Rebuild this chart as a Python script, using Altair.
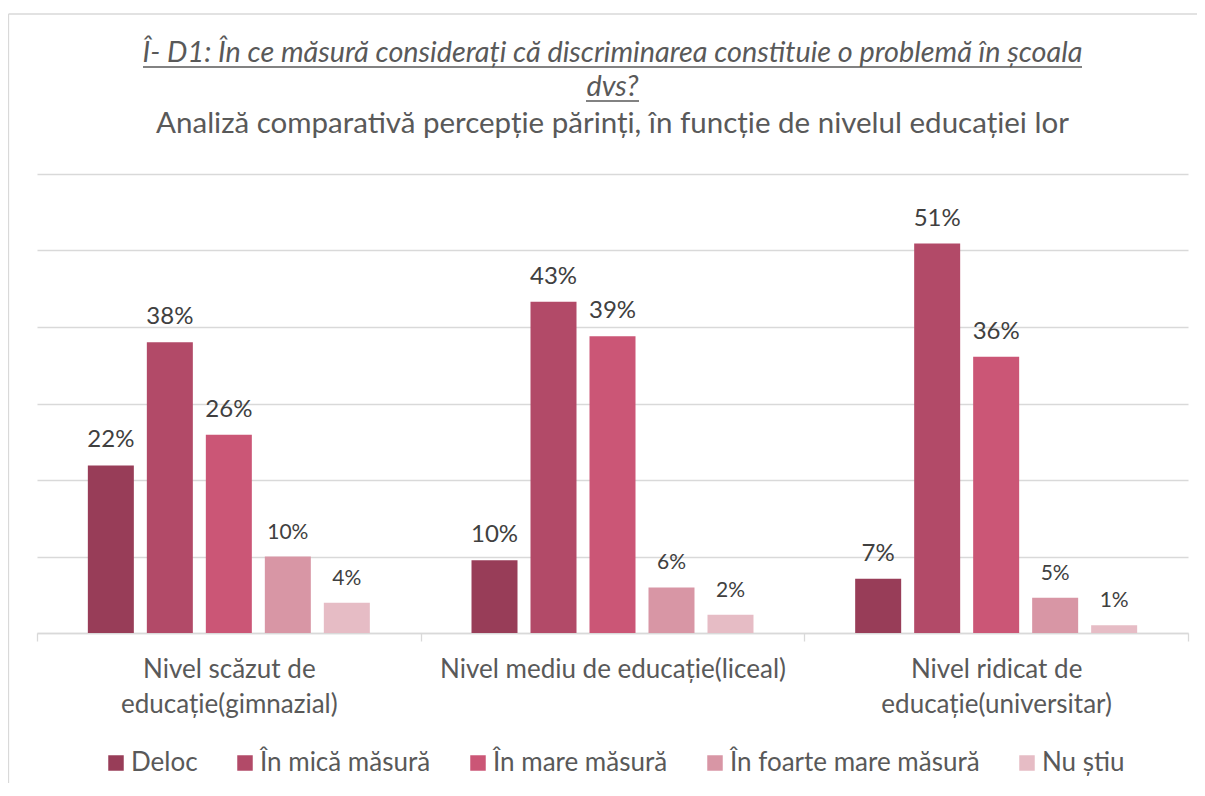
import altair as alt
import pandas as pd

# ---- data ----
categories = [
    "Nivel scăzut de educație(gimnazial)",
    "Nivel mediu de educație(liceal)",
    "Nivel ridicat de educație(universitar)",
]
category_lines = [
    ["Nivel scăzut de", "educație(gimnazial)"],
    ["Nivel mediu de educație(liceal)"],
    ["Nivel ridicat de", "educație(universitar)"],
]
series = ["Deloc", "În mică măsură", "În mare măsură", "În foarte mare măsură", "Nu știu"]
deloc = [21.9, 9.5, 7.1]
mica = [38.0, 43.3, 50.9]
mare = [25.9, 38.8, 36.1]
foarte_mare = [10.0, 5.95, 4.6]
nu_stiu = [3.95, 2.4, 1.0]
y_ticks = [0, 10, 20, 30, 40, 50, 60]

colors = ["#983D58", "#B24A68", "#CB5676", "#D896A5", "#E6BCC5"]
label_sizes = [24, 24, 24, 21, 21]

title_line1 = "Î- D1: În ce măsură considerați că discriminarea constituie o problemă în școala"
title_line2 = "dvs?"
subtitle = "Analiză comparativă percepție părinți, în funcție de nivelul educației lor"

values_by_series = [deloc, mica, mare, foarte_mare, nu_stiu]
rows = []
for s, vals in zip(series, values_by_series):
    for c, v in zip(categories, vals):
        rows.append({"category": c, "series": s, "value": v})
df = pd.DataFrame(rows)

# multi-line axis labels
expr = "datum.value"
for c, lines in reversed(list(zip(categories, category_lines))):
    arr = "[" + ",".join("'" + l + "'" for l in lines) + "]"
    expr = f"datum.value == '{c}' ? {arr} : ({expr})"

# font size per series for the data labels
fs_expr = str(label_sizes[-1])
for s, fs in reversed(list(zip(series, label_sizes))):
    fs_expr = f"datum.series == '{s}' ? {fs} : ({fs_expr})"

W, H = 1151, 459
GRID = "#d9d9d9"
TXT = "#595959"
FONT = "Lato"

x = alt.X(
    "category:N",
    sort=categories,
    scale=alt.Scale(paddingInner=0, paddingOuter=0),
    axis=alt.Axis(
        title=None,
        labelExpr=expr,
        labelAngle=0,
        labelFontSize=26,
        labelColor=TXT,
        labelLineHeight=35,
        labelPadding=15,
        labelLimit=500,
        tickBand="extent",
        tickSize=8,
        tickColor=GRID,
        tickWidth=1.3,
        domainColor=GRID,
        domainWidth=1.3,
        grid=False,
    ),
)
xoff = alt.XOffset("series:N", sort=series, scale=alt.Scale(paddingInner=0, paddingOuter=0.7516))
y = alt.Y(
    "value:Q",
    scale=alt.Scale(domain=[0, 60], nice=False),
    axis=alt.Axis(
        title=None,
        labels=False,
        ticks=False,
        domain=False,
        values=y_ticks,
        gridColor=GRID,
        gridWidth=1.3,
    ),
)
color = alt.Color(
    "series:N",
    sort=series,
    scale=alt.Scale(domain=series, range=colors),
    legend=alt.Legend(
        title=None,
        orient="none",
        legendX=66,
        legendY=576,
        direction="horizontal",
        columns=5,
        symbolType="square",
        symbolSize=240,
        symbolStrokeWidth=0,
        labelFontSize=26,
        labelColor=TXT,
        labelLimit=500,
        labelOffset=2,
        columnPadding=34,
    ),
)

base = alt.Chart(df)
bars = base.mark_bar(width=46).encode(x=x, xOffset=xoff, y=y, color=color)
labels = (
    base.transform_calculate(
        label="format(datum.value, '.0f') + '%'",
        fs=fs_expr,
    )
    .mark_text(baseline="alphabetic", dy=-18, color="#404040")
    .encode(
        x=x,
        xOffset=xoff,
        y=y,
        text="label:N",
        size=alt.Size("fs:Q", scale=None, legend=None),
    )
)

one = alt.Chart(pd.DataFrame({"a": [0]}))
frame_top = one.mark_rule(color=GRID, strokeWidth=1.3).encode(
    x=alt.value(-28.5), x2=alt.value(W + 20), y=alt.value(-160)
)
frame_left = one.mark_rule(color=GRID, strokeWidth=1.3).encode(
    x=alt.value(-28.5), y=alt.value(-160), y2=alt.value(H + 160)
)
t1 = one.mark_text(
    text=title_line1, fontSize=28.8, fontStyle="italic", color=TXT, align="center", baseline="alphabetic"
).encode(x=alt.value(W / 2), y=alt.value(-112))
t2 = one.mark_text(
    text=title_line2, fontSize=28.8, fontStyle="italic", color=TXT, align="center", baseline="alphabetic"
).encode(x=alt.value(W / 2), y=alt.value(-78))
st = one.mark_text(
    text=subtitle, fontSize=29.5, color=TXT, align="center", baseline="alphabetic"
).encode(x=alt.value(W / 2), y=alt.value(-41))
ul1 = one.mark_rule(color=TXT, strokeWidth=1.3).encode(
    x=alt.value(106), x2=alt.value(1045), y=alt.value(-107)
)
ul2 = one.mark_rule(color=TXT, strokeWidth=1.3).encode(
    x=alt.value(549), x2=alt.value(602), y=alt.value(-73)
)

chart = (
    alt.layer(bars, labels, frame_top, frame_left, t1, t2, st, ul1, ul2)
    .properties(
        width=W,
        height=H,
        autosize="none",
        padding={"left": 29, "top": 166, "right": 9, "bottom": 150},
    )
    .configure(font=FONT, background="white")
    .configure_view(stroke=None)
)

chart.save("out.html", embed_options={"renderer": "svg", "actions": False})
